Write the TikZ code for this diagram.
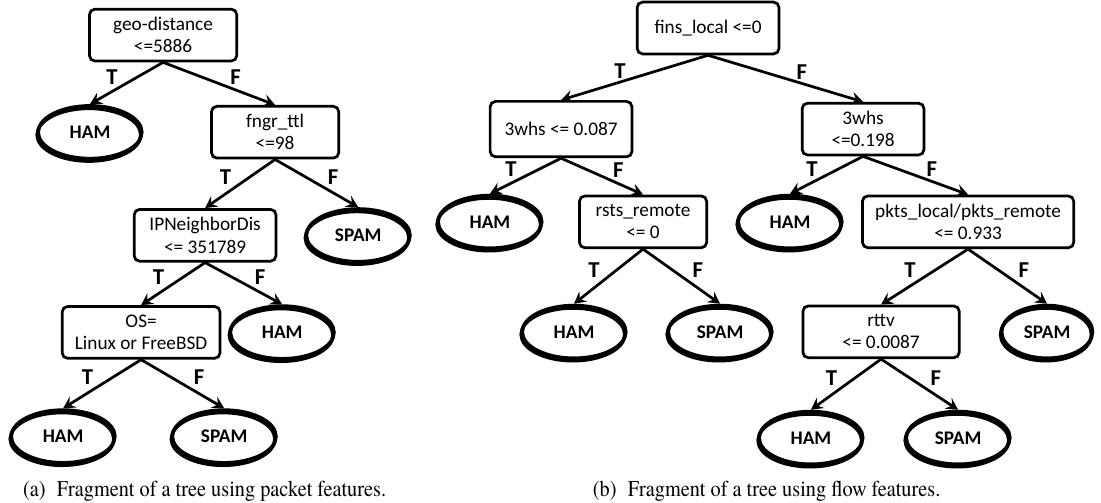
\documentclass[tikz,border=0pt]{standalone}
\usepackage{fontspec}
\setmainfont{Carlito}
\newfontfamily\serifcap[FakeStretch=0.9]{TeX Gyre Termes}
\usetikzlibrary{arrows.meta, positioning, shapes.geometric}
\tikzset{%
	test node/.style={
		draw,
		rectangle,
		rounded corners=3pt,
		line width=1.5pt,
		align=center,
		minimum width=70pt,
		minimum height=28.5pt,
		inner xsep=7pt,
		font=\fontsize{10.6}{12.2}\selectfont
	},
	leaf node/.style={
		draw,
		ellipse,
		line width=1.9pt,
		minimum width=57pt,
		minimum height=29pt,
		inner sep=0pt,
		font=\fontsize{10.6}{12.2}\selectfont\bfseries,
		preaction={draw, line width=1.9pt, transform canvas={xshift=-0.6pt, yshift=-1.4pt}}
	},
	true label/.style={
		font=\bfseries\fontsize{12.5}{15}\selectfont,
		inner sep=0pt,
		xshift=-8pt,
		yshift=3.5pt
	},
	false label/.style={
		font=\bfseries\fontsize{12.5}{15}\selectfont,
		inner sep=0pt,
		xshift=9pt,
		yshift=3.5pt
	},
	caption text/.style={
		font=\serifcap\fontsize{12.4}{14}\selectfont
	},
}
\begin{document}
\begin{tikzpicture}[
				edge from parent/.style={draw, line width=1.5pt, -{Stealth[length=6.5pt, width=7pt, inset=2.5pt]}},
				edge from parent path={(\tikzparentnode.south) -- (\tikzchildnode.north)}
				]
				\useasboundingbox (0,0) rectangle (605.5pt,-276.1pt);
				
				% Tree (a): packet features
				\begin{scope}[
					level 1/.style={level distance=53.4pt, sibling distance=101.8pt},
					level 2/.style={level distance=56.7pt, sibling distance=84.2pt},
					level 3/.style={level distance=53.4pt, sibling distance=77.6pt},
					level 4/.style={level distance=57.2pt, sibling distance=88.6pt}
					]
				\node[test node, minimum width=81pt] (geo) at (89.7pt,-19.3pt) {geo-distance\\<=5886}
				child[xshift=10.7pt] {node[leaf node] (hamA) {HAM} edge from parent node[true label] (tA) {T}}
				child[xshift=10.7pt] {node[test node] (fngr) {fngr\_ttl\\<=98}
					child[xshift=3.6pt] {node[test node, minimum width=78pt] (ipn) {IPNeighborDis\\<= 351789}
						child[xshift=3.6pt] {node[test node, minimum width=84pt] (os) {OS=\\Linux or FreeBSD}
							child[xshift=1.4pt] {node[leaf node] (hamC) {HAM} edge from parent node[true label] (tD) {T}}
							child[xshift=1.4pt] {node[leaf node] (spamB) {SPAM} edge from parent node[false label] (fD) {F}}
							edge from parent node[true label] (tC) {T}}
						child[xshift=3.6pt] {node[leaf node] (hamB) {HAM} edge from parent node[false label] (fC) {F}}
						edge from parent node[true label] (tB) {T}}
					child[xshift=3.6pt] {node[leaf node] (spamA) {SPAM} edge from parent node[false label] (fB) {F}}
					edge from parent node[false label] (fA) {F}};
				\end{scope}
				
				% Tree (b): flow features
				\begin{scope}[
					level 1/.style={level distance=55.6pt, sibling distance=166.1pt},
					level 2/.style={level distance=51pt, sibling distance=84.2pt},
					level 3/.style={level distance=60.5pt, sibling distance=80.3pt},
					level 4/.style={level distance=58.3pt, sibling distance=80.9pt}
					]
				\node[test node, minimum width=78pt] (fins) at (389.4pt,-15.4pt) {fins\_local <=0}
				child[xshift=2.2pt] {node[test node, minimum width=78pt, minimum height=30.5pt] (whsA) {3whs <= 0.087}
					child[xshift=3pt] {node[leaf node] (hamD) {HAM} edge from parent node[true label] (tF) {T}}
					child[xshift=3pt] {node[test node] (rsts) {rsts\_remote\\<= 0}
						child[xshift=2.2pt] {node[leaf node] (hamF) {HAM} edge from parent node[true label] (tH) {T}}
						child[xshift=2.2pt] {node[leaf node] (spamC) {SPAM} edge from parent node[false label] (fH) {F}}
						edge from parent node[false label] (fF) {F}}
					edge from parent node[true label] (tE) {T}}
				child[xshift=2.2pt] {node[test node, minimum width=67pt] (whsB) {3whs\\<=0.198}
					child[xshift=8.8pt, sibling distance=97.9pt] {node[leaf node] (hamE) {HAM} edge from parent node[true label] (tG) {T}}
					child[xshift=8.8pt, sibling distance=97.9pt] {node[test node] (pkts) {pkts\_local/pkts\_remote\\<= 0.933}
						child[xshift=-2.2pt, sibling distance=91.3pt] {node[test node, minimum width=86pt] (rttv) {rttv\\<= 0.0087}
							child[xshift=1.9pt] {node[leaf node] (hamG) {HAM} edge from parent node[true label] (tJ) {T}}
							child[xshift=1.9pt] {node[leaf node] (spamE) {SPAM} edge from parent node[false label] (fJ) {F}}
							edge from parent node[true label] (tI) {T}}
						child[xshift=-2.2pt, sibling distance=91.3pt] {node[leaf node, minimum width=50pt] (spamD) {SPAM} edge from parent node[false label] (fI) {F}}
						edge from parent node[false label] (fG) {F}}
					edge from parent node[false label] (fE) {F}};
				\end{scope}
				
				% Captions
				\node[caption text] (capA) at (112.5pt,-270pt) {(a)\enspace Fragment of a tree using packet features.};
				\node[caption text] (capB) at (421.6pt,-270pt) {(b)\enspace Fragment of a tree using flow features.};
				
			\end{tikzpicture}
\end{document}
